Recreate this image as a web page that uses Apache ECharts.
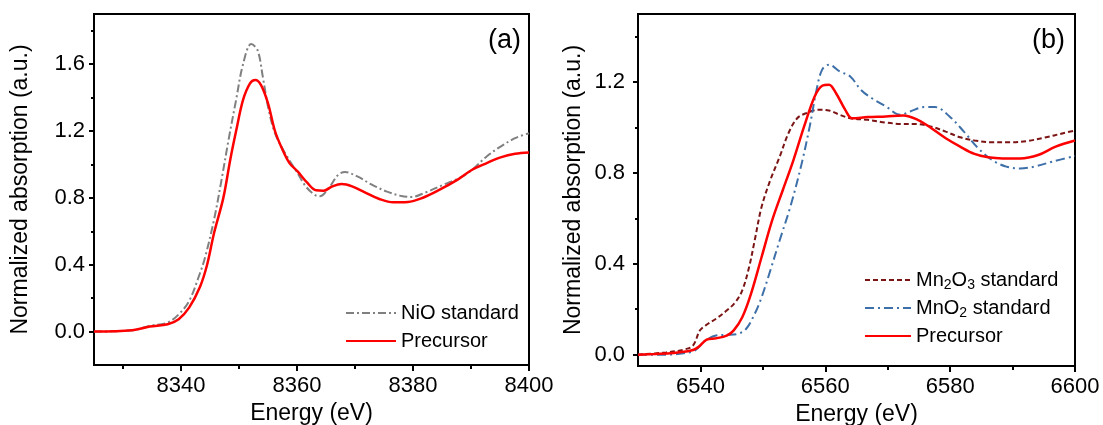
<!DOCTYPE html>
<html>
<head>
<meta charset="utf-8">
<script src="https://cdn.jsdelivr.net/npm/echarts@6/dist/echarts.min.js"></script>
<style>
  html, body { margin: 0; padding: 0; background: #fff; }
  #chart-container { width: 1103px; height: 425px; }
</style>
</head>
<body>
<div id="chart-container"></div>
<script>
// (a) Ni K-edge
var niStdEnergy = [8325, 8331.6, 8334.6, 8337.7, 8339.6, 8341.4, 8343.3, 8344.2, 8345.7, 8347.0, 8348.2, 8349.5, 8350.7, 8352.1, 8353.2, 8354.1, 8355.0, 8356.2, 8358.1, 8360.1, 8361.5, 8363.0, 8363.9, 8365.5, 8367.1, 8368.3, 8370.4, 8372.9, 8375.4, 8377.8, 8379.7, 8382.2, 8385.3, 8388.3, 8390.2, 8392.7, 8395.1, 8397.6, 8400];
var niStandard = [0, 0.008, 0.034, 0.054, 0.103, 0.183, 0.352, 0.45, 0.67, 0.91, 1.147, 1.386, 1.60, 1.72, 1.684, 1.525, 1.346, 1.187, 1.058, 0.948, 0.869, 0.819, 0.809, 0.859, 0.938, 0.954, 0.928, 0.879, 0.839, 0.813, 0.805, 0.833, 0.879, 0.924, 0.968, 1.048, 1.107, 1.157, 1.187];
var niPrecEnergy = [8325, 8331.6, 8334.6, 8337.7, 8339.6, 8341.4, 8343.3, 8344.5, 8345.7, 8347.3, 8348.5, 8349.5, 8350.7, 8351.9, 8352.8, 8353.8, 8355.0, 8356.2, 8357.5, 8358.7, 8360.1, 8361.8, 8363.3, 8364.6, 8366.1, 8367.7, 8369.5, 8371.7, 8374.2, 8376.6, 8379.1, 8381.6, 8384.6, 8387.7, 8390.2, 8392.7, 8395.1, 8397.6, 8400];
var niPrecursor = [0, 0.008, 0.03, 0.044, 0.074, 0.143, 0.27, 0.40, 0.59, 0.80, 1.03, 1.20, 1.386, 1.485, 1.505, 1.475, 1.366, 1.20, 1.088, 1.008, 0.958, 0.889, 0.845, 0.843, 0.869, 0.883, 0.869, 0.833, 0.793, 0.773, 0.775, 0.799, 0.849, 0.909, 0.968, 1.008, 1.042, 1.064, 1.072];

// (b) Mn K-edge
var mn2o3Energy = [6530, 6534.5, 6537.3, 6538.8, 6539.9, 6540.8, 6542.5, 6544.2, 6545.6, 6546.7, 6547.8, 6548.7, 6549.8, 6551.2, 6552.7, 6554.1, 6555.5, 6556.9, 6558.9, 6560.6, 6562.3, 6564.0, 6566.8, 6569.7, 6572.0, 6574.8, 6577.0, 6579.3, 6581.6, 6583.9, 6586.7, 6589.6, 6592.4, 6595.2, 6598.1, 6600];
var mn2o3 = [0, 0.01, 0.022, 0.04, 0.106, 0.128, 0.158, 0.194, 0.231, 0.283, 0.386, 0.504, 0.651, 0.769, 0.872, 0.975, 1.041, 1.063, 1.078, 1.075, 1.056, 1.041, 1.034, 1.022, 1.016, 1.015, 1.004, 0.982, 0.957, 0.943, 0.935, 0.935, 0.941, 0.956, 0.975, 0.987];
var mno2Energy = [6530, 6534.5, 6537.3, 6539.1, 6540.8, 6542.5, 6544.2, 6545.9, 6547.3, 6548.7, 6549.8, 6551.2, 6552.7, 6554.4, 6556.1, 6557.5, 6558.6, 6559.5, 6560.6, 6562.3, 6564.0, 6565.7, 6567.4, 6569.7, 6572.0, 6573.6, 6575.9, 6577.6, 6579.9, 6582.2, 6584.5, 6586.7, 6589.0, 6591.2, 6593.5, 6596.4, 6600];
var mno2 = [0, 0, 0.006, 0.018, 0.062, 0.084, 0.087, 0.091, 0.113, 0.18, 0.253, 0.371, 0.504, 0.651, 0.828, 1.004, 1.166, 1.255, 1.277, 1.247, 1.225, 1.166, 1.13, 1.093, 1.056, 1.071, 1.09, 1.09, 1.049, 0.982, 0.909, 0.857, 0.828, 0.82, 0.828, 0.85, 0.875];
var mnPrecEnergy = [6530, 6532.8, 6535.6, 6538.5, 6539.6, 6541.0, 6542.5, 6544.2, 6545.3, 6546.7, 6548.1, 6549.8, 6551.5, 6553.2, 6554.9, 6556.6, 6558.3, 6559.5, 6560.6, 6561.7, 6563.2, 6564.3, 6566.8, 6569.7, 6572.5, 6574.8, 6577.0, 6579.3, 6581.6, 6583.9, 6586.1, 6588.4, 6591.2, 6594.1, 6596.9, 6600];
var mnPrecursor = [0, 0.003, 0.007, 0.018, 0.032, 0.066, 0.072, 0.084, 0.106, 0.165, 0.268, 0.43, 0.592, 0.725, 0.857, 1.004, 1.137, 1.184, 1.189, 1.152, 1.078, 1.041, 1.046, 1.049, 1.053, 1.034, 0.997, 0.953, 0.916, 0.884, 0.869, 0.864, 0.864, 0.879, 0.916, 0.943];

// ticks
var niMajorX = [8340, 8360, 8380, 8400];
var niMinorX = [8330, 8350, 8370, 8390];
var niMajorY = [0, 0.4, 0.8, 1.2, 1.6];
var niMinorY = [0.2, 0.6, 1.0, 1.4, 1.8];
var mnMajorX = [6540, 6560, 6580, 6600];
var mnMinorX = [6550, 6570, 6590];
var mnMajorY = [0, 0.4, 0.8, 1.2];
var mnMinorY = [0.2, 0.6, 1.0, 1.4];

var dom = document.getElementById('chart-container');
var myChart = echarts.init(dom, null, { renderer: 'canvas' });

var font = 'Liberation Sans, Arial, sans-serif';
var black = '#000';

function pairs(xs, ys) {
  return xs.map(function (x, i) { return [x, ys[i]]; });
}

function xAxes(grid, min, max, majors, minors) {
  return [
    {
      type: 'value', gridIndex: grid, min: min, max: max, position: 'bottom',
      name: 'Energy (eV)', nameLocation: 'middle', nameGap: 33,
      nameTextStyle: { fontSize: 23, fontFamily: font, color: black },
      axisLine: { onZero: false, lineStyle: { color: black, width: 2 } },
      axisTick: { customValues: majors, length: 6, lineStyle: { color: black, width: 2 } },
      axisLabel: {
        customValues: majors, fontSize: 22, fontFamily: font, color: black, margin: 10,
        formatter: function (v) { return String(v); }
      },
      splitLine: { show: false }
    },
    {
      type: 'value', gridIndex: grid, min: min, max: max, position: 'bottom',
      axisLine: { show: false, onZero: false },
      axisTick: { customValues: minors, length: 4, lineStyle: { color: black, width: 2 } },
      axisLabel: { show: false },
      splitLine: { show: false }
    }
  ];
}

function yAxes(grid, min, max, majors, minors, gap, margin) {
  return [
    {
      type: 'value', gridIndex: grid, min: min, max: max, position: 'left',
      name: 'Normalized absorption (a.u.)', nameLocation: 'middle', nameGap: gap,
      nameTextStyle: { fontSize: 23, fontFamily: font, color: black },
      axisLine: { onZero: false, lineStyle: { color: black, width: 2 } },
      axisTick: { customValues: majors, length: 5, lineStyle: { color: black, width: 2 } },
      axisLabel: {
        customValues: majors, fontSize: 22, fontFamily: font, color: black, margin: margin,
        formatter: function (v) { return v.toFixed(1); }
      },
      splitLine: { show: false }
    },
    {
      type: 'value', gridIndex: grid, min: min, max: max, position: 'left',
      axisLine: { show: false, onZero: false },
      axisTick: { customValues: minors, length: 3, lineStyle: { color: black, width: 2 } },
      axisLabel: { show: false },
      splitLine: { show: false }
    }
  ];
}

function line(name, xIdx, data, color, width, dash) {
  return {
    name: name, type: 'line', xAxisIndex: xIdx, yAxisIndex: xIdx,
    data: data, symbol: 'none', smooth: 0.35,
    itemStyle: { color: color },
    lineStyle: { color: color, width: width, type: dash }
  };
}

var legendText = {
  fontSize: 20, fontFamily: font, color: black, lineHeight: 24,
  rich: { sub: { fontSize: 14, lineHeight: 14, verticalAlign: 'bottom', fontFamily: font, color: black } }
};

var option = {
  animation: false,
  backgroundColor: '#fff',
  grid: [
    { left: 94, top: 14, width: 435, height: 351, show: true, borderColor: black, borderWidth: 2, outerBoundsMode: 'none' },
    { left: 638, top: 14, width: 437, height: 352, show: true, borderColor: black, borderWidth: 2, outerBoundsMode: 'none' }
  ],
  xAxis: xAxes(0, 8325, 8400, niMajorX, niMinorX).concat(xAxes(1, 6530, 6600, mnMajorX, mnMinorX)),
  yAxis: yAxes(0, -0.2, 1.9, niMajorY, niMinorY, 62, 9).concat(yAxes(1, -0.05, 1.5, mnMajorY, mnMinorY, 53, 13)),
  legend: [
    {
      data: ['NiO standard', 'Precursor'], orient: 'vertical', left: 345, top: 301, padding: 0,
      itemWidth: 50, itemHeight: 20, itemGap: 4, selectedMode: false,
      itemStyle: { opacity: 0 }, textStyle: legendText
    },
    {
      data: ['Mn2O3 standard', 'MnO2 standard', 'Precursor'], orient: 'vertical', left: 864, top: 268, padding: 0,
      itemWidth: 46, itemHeight: 20, itemGap: 4, selectedMode: false,
      itemStyle: { opacity: 0 }, textStyle: legendText,
      formatter: function (name) { return name.replace(/(\d)/g, '{sub|$1}'); }
    }
  ],
  graphic: [
    { type: 'text', left: 488, top: 27, style: { text: '(a)', font: '27px ' + font, fill: black } },
    { type: 'text', left: 1032, top: 27, style: { text: '(b)', font: '27px ' + font, fill: black } }
  ],
  series: [
    line('NiO standard', 0, pairs(niStdEnergy, niStandard), '#808080', 2, [8, 3, 2, 3]),
    line('Precursor', 0, pairs(niPrecEnergy, niPrecursor), '#ff0000', 2.5, 'solid'),
    line('Mn2O3 standard', 2, pairs(mn2o3Energy, mn2o3), '#7b1414', 2, [5, 3]),
    line('MnO2 standard', 2, pairs(mno2Energy, mno2), '#3d6fa8', 2, [9, 4, 2, 4]),
    line('Precursor', 2, pairs(mnPrecEnergy, mnPrecursor), '#ff0000', 2.5, 'solid')
  ]
};

if (option && typeof option === 'object') {
  myChart.setOption(option);
}

window.addEventListener('resize', myChart.resize);
</script>
</body>
</html>
